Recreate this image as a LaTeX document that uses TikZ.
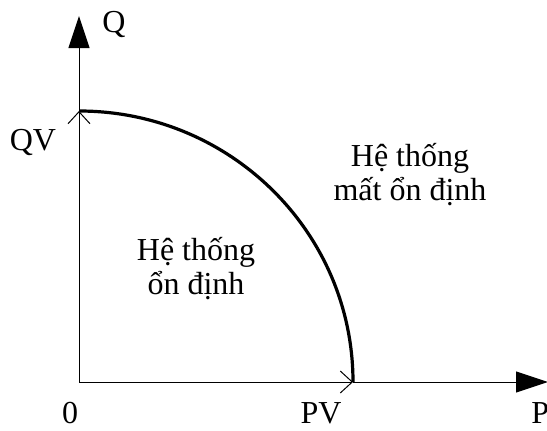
\documentclass[tikz,border=0pt]{standalone}
\usepackage{fontspec}
\setmainfont{Liberation Serif}
\usetikzlibrary{arrows.meta,positioning}

\begin{document}
\begin{tikzpicture}[
    x=0.5pt, y=0.5pt,
    axis/.style={line width=0.5pt, black},
    bigtip/.style={-{Triangle[length=16pt, width=10.5pt]}},
    marktip/.style={-{Straight Barb[length=6pt, width=11pt, line width=0.5pt]}},
    bound/.style={line width=1.6pt, black},
    lbl/.style={font=\fontsize{16}{17}\selectfont, inner sep=0pt},
    region/.style={font=\fontsize{16}{17}\selectfont, align=center, inner sep=0pt}
]
\useasboundingbox (0,0) rectangle (547,430);
\coordinate (o) at (79,48);
\coordinate (qv) at (79,319);
\coordinate (pv) at (353,48);
\coordinate (qtop) at (79,414);
\coordinate (ptip) at (548,48);
% axes with the limit marks
\draw[axis, marktip] (o) -- (qv);
\draw[axis, bigtip] (qv) -- (qtop);
\draw[axis, marktip] (o) -- (pv);
\draw[axis, bigtip] (pv) -- (ptip);
% stability limit
\draw[bound] (qv) arc[start angle=90, end angle=0, x radius=137pt, y radius=135.5pt];
% labels
\node[lbl] (qlbl) at (114,406) {Q};
\node[lbl] (qvlbl) at (33,288) {QV};
\node[lbl] (zero) at (70,17) {0};
\node[lbl] (pvlbl) at (321,17) {PV};
\node[lbl, anchor=west] (plbl) at (531,17) {P};
\node[region] (unstable) at (410,255) {Hệ thống\\mất ổn định};
\node[region] (stable) at (196,161) {Hệ thống\\ổn định};
\end{tikzpicture}
\end{document}
